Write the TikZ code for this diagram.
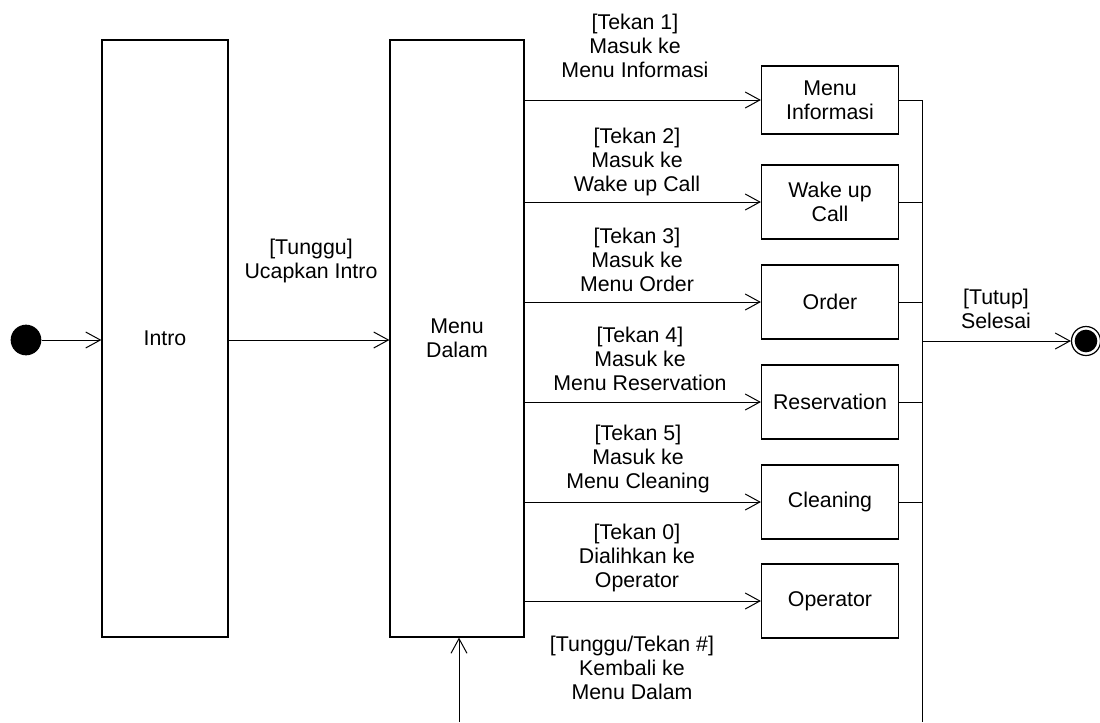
\documentclass[tikz,border=0pt]{standalone}
\usepackage{fontspec}
\setmainfont{Liberation Sans}
\usetikzlibrary{arrows.meta}
\begin{document}
\begin{tikzpicture}[x=0.75pt,y=-0.75pt,
  box/.style={draw=black,line width=0.9pt,fill=white,align=center,inner sep=0pt},
  conn/.style={draw=black,line width=0.75pt},
  arr/.style={conn,-{Straight Barb[length=11pt,width=12pt,line width=0.75pt]}},
  lbl/.style={align=center,inner sep=0pt},
  font=\fontsize{16}{18}\selectfont]
\useasboundingbox (0,0) rectangle (1100,722);
% states
\node (start) at (26,340) [circle,fill=black,minimum size=23pt,inner sep=0pt] {};
\node (intro) at (165,338.5) [box,minimum width=94.5pt,minimum height=447.75pt] {Intro};
\node (md) at (457,338.5) [box,minimum width=100.5pt,minimum height=447.75pt] {Menu\\Dalam};
\node (mi) at (830,100) [box,minimum width=102.75pt,minimum height=51pt] {Menu\\Informasi};
\node (wu) at (830,202) [box,minimum width=102.75pt,minimum height=55.5pt] {Wake up\\Call};
\node (or) at (830,302) [box,minimum width=102.75pt,minimum height=55.5pt] {Order};
\node (re) at (830,402) [box,minimum width=102.75pt,minimum height=55.5pt] {Reservation};
\node (cl) at (830,502) [box,minimum width=102.75pt,minimum height=55.5pt] {Cleaning};
\node (op) at (830,601) [box,minimum width=102.75pt,minimum height=55.5pt] {Operator};
\node (end) at (1086,341) [circle,draw=black,line width=0.9pt,fill=white,minimum size=21.75pt,inner sep=0pt] {};
\node (endc) at (end) [circle,fill=black,minimum size=17pt,inner sep=0pt] {};
% coordinates
\coordinate (bustop) at (922,100);
\coordinate (busbot) at (922,722);
\coordinate (busmid) at (922,341);
\coordinate (back) at (459,722);
% connectors
\draw[arr] (start) -- (intro.west |- start);
\draw[arr] (intro.east |- start) -- (md.west |- start);
\draw[arr] (md.east |- mi) -- (mi.west);
\draw[arr] (md.east |- wu) -- (wu.west);
\draw[arr] (md.east |- or) -- (or.west);
\draw[arr] (md.east |- re) -- (re.west);
\draw[arr] (md.east |- cl) -- (cl.west);
\draw[arr] (md.east |- op) -- (op.west);
\draw[conn] (bustop) -- (busbot);
\draw[conn] (mi.east) -- (mi.east -| bustop);
\draw[conn] (wu.east) -- (wu.east -| bustop);
\draw[conn] (or.east) -- (or.east -| bustop);
\draw[conn] (re.east) -- (re.east -| bustop);
\draw[conn] (cl.east) -- (cl.east -| bustop);
\draw[arr] (busmid) -- (end.west);
\draw[arr] (back) -- (back |- md.south);
% labels
\node[lbl] (l0) at (311,261) {[Tunggu]\\Ucapkan Intro};
\node[lbl] (l1) at (635,46) {[Tekan 1]\\Masuk ke\\Menu Informasi};
\node[lbl] (l2) at (637,162) {[Tekan 2]\\Masuk ke\\Wake up Call};
\node[lbl] (l3) at (637,260) {[Tekan 3]\\Masuk ke\\Menu Order};
\node[lbl] (l4) at (640,359) {[Tekan 4]\\Masuk ke\\Menu Reservation};
\node[lbl] (l5) at (638,459) {[Tekan 5]\\Masuk ke\\Menu Cleaning};
\node[lbl] (l6) at (637,558) {[Tekan 0]\\Dialihkan ke\\Operator};
\node[lbl] (l7) at (632,668) {[Tunggu/Tekan \#]\\Kembali ke\\Menu Dalam};
\node[lbl] (l8) at (996,309) {[Tutup]\\Selesai};
\end{tikzpicture}
\end{document}
